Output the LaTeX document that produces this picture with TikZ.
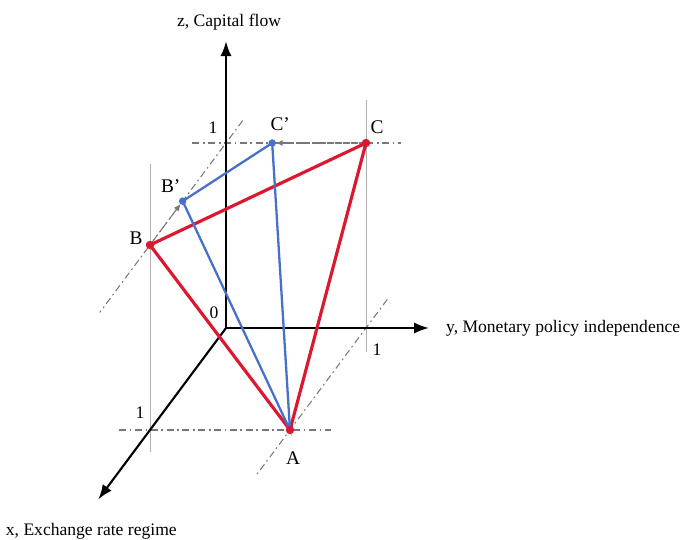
\documentclass[tikz,border=0pt]{standalone}
\usepackage{fontspec}
\setmainfont{Liberation Serif}
\usepackage{xcolor}
\usetikzlibrary{arrows.meta,positioning,calc}

\definecolor{triRed}{RGB}{218,24,48}
\definecolor{triBlue}{RGB}{72,112,200}
\definecolor{guideGray}{RGB}{120,120,120}

\begin{document}
\begin{tikzpicture}[
        >=Latex,
        x={(-1.52cm,-2.04cm)}, y={(2.8cm,0cm)}, z={(0cm,3.7cm)},
        axis/.style={->, line width=1.2pt, black},
        guide/.style={guideGray, line width=0.6pt, dash pattern=on 4pt off 2pt on 1pt off 2pt},
        drop/.style={guideGray!60, line width=0.4pt},
        redside/.style={triRed, line width=1.8pt},
        blueside/.style={triBlue, line width=1.3pt},
        reddot/.style={circle, fill=triRed, inner sep=1.7pt},
        bluedot/.style={circle, fill=triBlue, inner sep=1.5pt},
        shiftarrow/.style={guide, -{Latex[length=4pt,width=3.5pt]}, shorten >=2pt},
        axislabel/.style={font=\fontsize{10}{12}\selectfont, inner sep=1pt},
        ptlabel/.style={font=\fontsize{11}{13}\selectfont, inner sep=0pt},
        numlabel/.style={font=\fontsize{10}{12}\selectfont, inner sep=0pt}
    ]
        \useasboundingbox (-4.52cm,6.56cm) rectangle (9.36cm,-4.24cm);

        % points of the cube frame
        \coordinate (O) at (0,0,0);
        \coordinate (X1) at (1,0,0);
        \coordinate (Y1) at (0,1,0);
        \coordinate (Z1) at (0,0,1);
        \coordinate (A) at (1,1,0);
        \coordinate (B) at (1,0,1);
        \coordinate (C) at (0,1,1);
        \coordinate (Bp) at (0.57,0,1);
        \coordinate (Cp) at (0,0.33,1);
        \coordinate (xtip) at (1.68,0,0);
        \coordinate (ytip) at (0,1.45,0);
        \coordinate (ztip) at (0,0,1.55);

        % guide lines
        \draw[drop] (0,1,1.23) -- (0,1,-0.13);
        \draw[drop] (1,0,1.44) -- (1,0,-0.12);
        \draw[guide] (0,-0.24,1) -- (0,1.25,1);
        \draw[guide] (1,-0.22,0) -- (1,1.29,0);
        \draw[guide] (-0.22,0,1) -- (1.66,0,1);
        \draw[guide] (-0.28,1,0) -- (1.46,1,0);
        \draw[shiftarrow] (B) -- (Bp);
        \draw[shiftarrow] (C) -- (Cp);

        % axes
        \draw[axis] (O) -- (ztip);
        \draw[axis] (O) -- (ytip);
        \draw[axis] (O) -- (xtip);
        \node[axislabel, above=1.8mm of ztip, xshift=0.6mm] (zname) {z, Capital flow};
        \node[axislabel, right=3mm of ytip] (yname) {y, Monetary policy independence};
        \node[axislabel, below=4.3mm of xtip, xshift=-1.4mm] (xname) {x, Exchange rate regime};

        % triangles
        \draw[redside] (A) -- (B) -- (C) -- cycle;
        \draw[blueside] (A) -- (Bp) -- (Cp) -- cycle;

        \node[reddot] (dotA) at (A) {};
        \node[reddot] (dotB) at (B) {};
        \node[reddot] (dotC) at (C) {};
        \node[bluedot] (dotBp) at (Bp) {};
        \node[bluedot] (dotCp) at (Cp) {};

        % labels
        \node[numlabel] (zero) at ($(O)+(-0.24cm,0.3cm)$) {0};
        \node[numlabel] (oneZ) at ($(Z1)+(-0.26cm,0.3cm)$) {1};
        \node[numlabel] (oneY) at ($(Y1)+(0.22cm,-0.44cm)$) {1};
        \node[numlabel] (oneX) at ($(X1)+(-0.2cm,0.34cm)$) {1};
        \node[ptlabel] (labA) at ($(A)+(0.06cm,-0.56cm)$) {A};
        \node[ptlabel] (labB) at ($(B)+(-0.28cm,0.14cm)$) {B};
        \node[ptlabel] (labC) at ($(C)+(0.22cm,0.32cm)$) {C};
        \node[ptlabel] (labBp) at ($(Bp)+(-0.24cm,0.3cm)$) {B'};
        \node[ptlabel] (labCp) at ($(Cp)+(0.16cm,0.38cm)$) {C'};
    \end{tikzpicture}
\end{document}
